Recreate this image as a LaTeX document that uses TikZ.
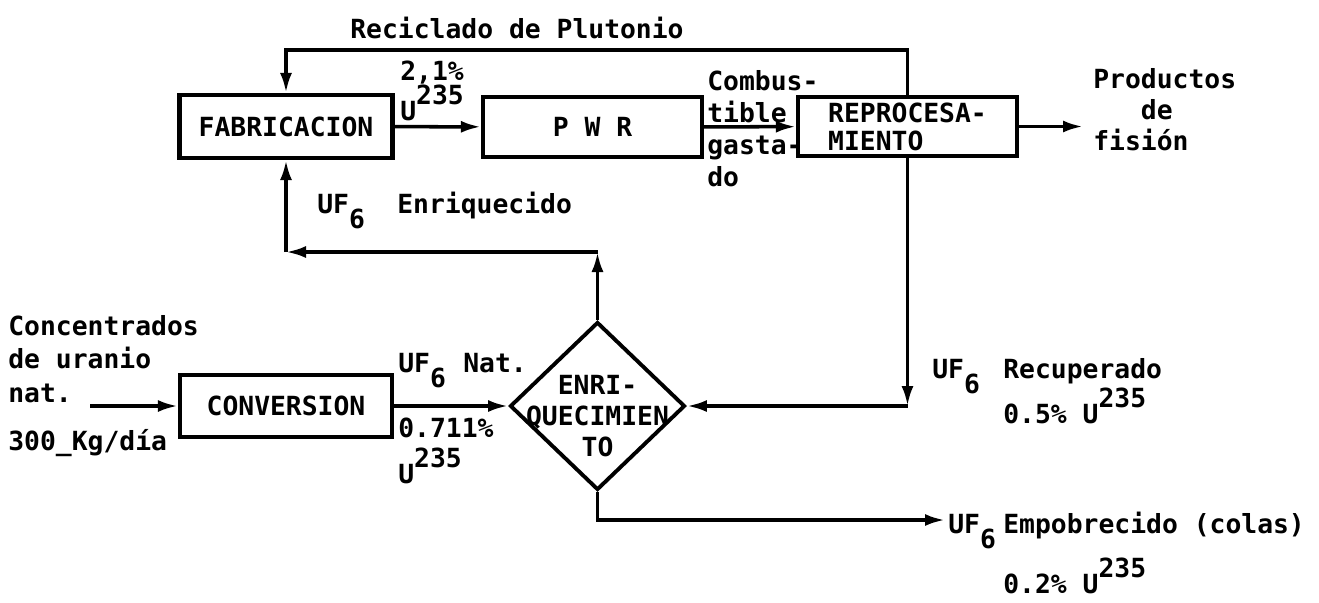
\documentclass[tikz,border=0pt]{standalone}
\usepackage{fontspec}
\setmonofont{DejaVu Sans Mono}
\usepackage{tikz}
\usetikzlibrary{shapes.geometric, arrows.meta, positioning, calc}
\newcommand{\bajo}[1]{\raisebox{-1.1ex}{#1}}
\newcommand{\alto}[1]{\raisebox{1.1ex}{#1}}

\begin{document}
\begin{tikzpicture}[x=0.2mm,y=-0.2mm]
\tikzset{
  caja/.style={rectangle,draw=black,line width=2.4pt,inner sep=0pt,align=left,font=\ttfamily\bfseries\fontsize{15}{16}\selectfont},
  rombo/.style={diamond,draw=black,line width=2.2pt,inner sep=0pt,minimum width=35mm,minimum height=33.6mm},
  txt/.style={anchor=base west,inner sep=0pt,align=left,font=\ttfamily\bfseries\fontsize{15}{18.4}\selectfont},
  ar/.style={-{Latex[length=4mm,width=2.4mm]},line width=2pt,draw=black}
}
\useasboundingbox (0,0) rectangle (1319,602);
\node[caja,minimum width=42.6mm,minimum height=12.6mm] (fab) at (286,126.5) {FABRICACION};
\node[caja,minimum width=43.8mm,minimum height=12mm] (pwr) at (592.5,127) {P W R};
\node[caja,minimum width=43.8mm,minimum height=11.8mm] (rep) at (907.5,126.5) {REPROCESA-\\MIENTO};
\node[caja,minimum width=42.4mm,minimum height=12.4mm] (conv) at (286,406) {CONVERSION};
\node[rombo,label={[font=\ttfamily\bfseries\fontsize{15}{17.6}\selectfont,align=center,yshift=-2mm]center:ENRI-\\QUECIMIEN\\TO}] (enr) at (597.5,406) {};
\coordinate (cin) at (90,406);
\coordinate (enq) at (286,252);
\coordinate (pf) at (1083,127);
\coordinate (emp) at (945,520);
% ciclo principal
\draw[ar] (rep.north) -- ++(0,-45) -| (fab.north);
\draw[ar] (fab) -- (pwr);
\draw[ar] (pwr) -- (rep);
\draw[ar] (rep.east) -- (rep.east -| pf);
\draw[ar] (cin) -- (conv);
\draw[ar] (conv) -- (enr);
\draw[ar] (rep.south) -- (rep.south |- enr.east);
\draw[ar] (rep.south |- enr.east) -- (enr.east);
\draw[ar] (enr.north) -- (enr.north |- enq);
\draw[ar] (enr.north |- enq) -- (enq);
\draw[ar] (enq) -- (fab.south);
\draw[ar] (enr.south) |- (emp);
% textos
\node[txt] (rec) at (350,38) {Reciclado de Plutonio};
\node[txt] (p21) at (400,80) {2,1\%};
\node[txt] (u21) at (400,120) {U\alto{235}};
\node[txt] (uf1) at (317,213) {UF\bajo{6}};
\node[txt] (enrq) at (397,213) {Enriquecido};
\node[txt,font=\ttfamily\bfseries\fontsize{15}{18.2}\selectfont] (comb) at (707,186) {Combus-\\tible\\gasta-\\do};
\node[txt,font=\ttfamily\bfseries\fontsize{15}{17.6}\selectfont] (prod) at (1093,150) {Productos\\\phantom{Pro}de\\fisión};
\node[txt,font=\ttfamily\bfseries\fontsize{15}{18.8}\selectfont] (conc) at (8,402) {Concentrados\\de uranio\\nat.};
\node[txt] (kg) at (8,450) {300\_Kg/día};
\node[txt] (uf2) at (398,372) {UF\bajo{6}};
\node[txt] (nat) at (463,372) {Nat.};
\node[txt] (p711) at (398,437) {0.711\%};
\node[txt] (u711) at (398,483) {U\alto{235}};
\node[txt] (uf3) at (932,378) {UF\bajo{6}};
\node[txt] (recu) at (1003,378) {Recuperado};
\node[txt] (p05) at (1003,423) {0.5\% U\alto{235}};
\node[txt] (uf4) at (948,533) {UF\bajo{6}};
\node[txt] (empo) at (1003,533) {Empobrecido (colas)};
\node[txt] (p02) at (1003,593) {0.2\% U\alto{235}};
\end{tikzpicture}
\end{document}
